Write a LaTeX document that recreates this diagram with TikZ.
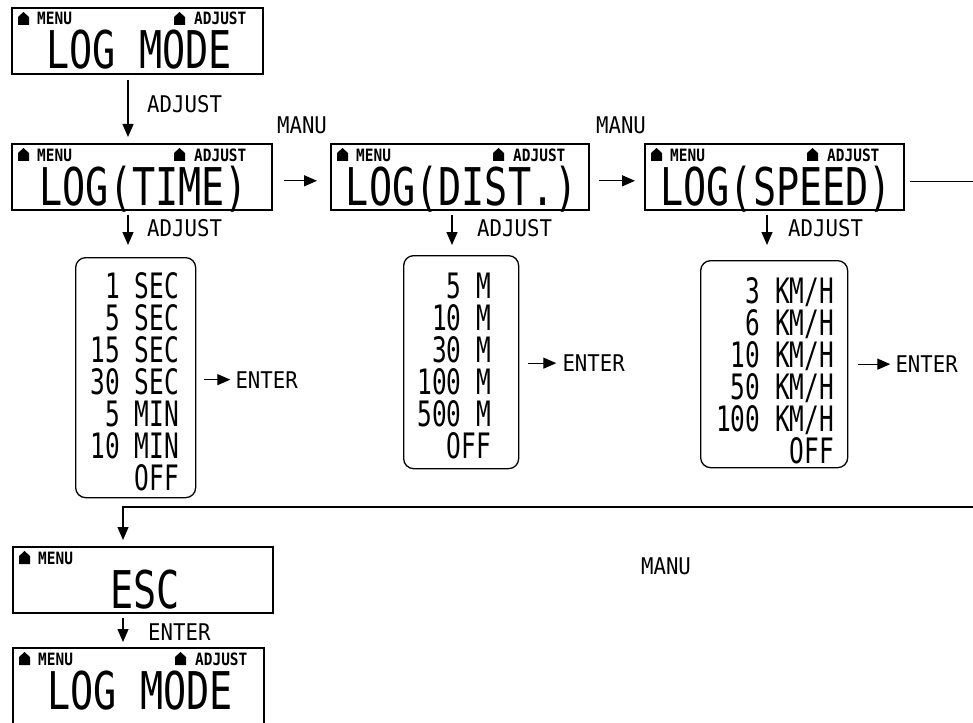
\documentclass[tikz,border=0pt]{standalone}
\usepackage{fontspec}
\usetikzlibrary{arrows.meta,calc}
\newfontfamily\bigfnt[FakeStretch=0.74]{DejaVu Sans Mono}
\newfontfamily\tabfnt[FakeStretch=0.7]{DejaVu Sans Mono}
\newfontfamily\lblfnt[FakeStretch=0.9]{DejaVu Sans Mono}
\newfontfamily\smlfnt[FakeStretch=0.85]{DejaVu Sans Mono Bold}
\tikzset{
 lcd/.style={draw, line width=1.6pt, rectangle, inner sep=0pt, minimum height=66pt, anchor=north west},
 bigtxt/.style={font=\bigfnt\fontsize{52}{52}\selectfont, inner sep=0pt, anchor=base},
 smalltxt/.style={font=\smlfnt\fontsize{17}{17}\selectfont, inner sep=0pt, anchor=base west},
 lbl/.style={font=\lblfnt\fontsize{23}{23}\selectfont, inner sep=0pt, anchor=base west},
 tbl/.style={draw, line width=1.3pt, rounded corners=10pt, rectangle, inner sep=0pt, anchor=north west},
 tabtxt/.style={font=\tabfnt\fontsize{35}{32}\selectfont, inner sep=0pt, align=right, anchor=north east},
 arr/.style={line width=1.3pt, -{Triangle[length=13pt,width=11pt]}},
}
\newcommand\lcdframe[6][66]{%
  \node[lcd, minimum width=#5pt, minimum height=#1pt] (#2) at (#3,#4) {};
  \fill ($(#2.north west)+(7,18)$) -- ++(11,0) -- ++(0,-8) -- ++(-5.5,-5) -- ++(-5.5,5) -- cycle;
  \node[smalltxt] (#2-menu) at ($(#2.north west)+(26,18)$) {MENU};
  \node[bigtxt] (#2-text) at ($(#2.north)+(2,62)$) {#6};
}
\newcommand\lcdadjust[1]{%
  \fill ($(#1.north west)+(163,18)$) -- ++(11,0) -- ++(0,-8) -- ++(-5.5,-5) -- ++(-5.5,5) -- cycle;
  \node[smalltxt] (#1-adj) at ($(#1.north west)+(183,18)$) {ADJUST};
}
\begin{document}
\begin{tikzpicture}[x=1pt,y=-1pt]
\useasboundingbox (0,0) rectangle (973,722);
\clip (0,0) rectangle (973,722);
% LCD boxes
\lcdframe{lm}{11}{7}{251}{LOG MODE}\lcdadjust{lm}
\lcdframe{time}{11}{143}{260}{LOG(TIME)}\lcdadjust{time}
\lcdframe{dist}{330}{143}{258}{LOG(DIST.)}\lcdadjust{dist}
\lcdframe{speed}{644}{143}{259}{LOG(SPEED)}\lcdadjust{speed}
\lcdframe{esc}{12}{546}{260}{ESC}
\lcdframe[80]{lm2}{12}{647}{251}{LOG MODE}\lcdadjust{lm2}
% tables
\node[tbl, minimum width=120pt, minimum height=240pt] (t1) at (75,257) {};
\node[tabtxt] (t1-txt) at ($(t1.north east)+(-17,15)$) {1 SEC\\5 SEC\\15 SEC\\30 SEC\\5 MIN\\10 MIN\\OFF};
\node[tbl, minimum width=115pt, minimum height=213pt] (t2) at (403,255) {};
\node[tabtxt] (t2-txt) at ($(t2.north east)+(-28,18)$) {5 M\\10 M\\30 M\\100 M\\500 M\\OFF};
\node[tbl, minimum width=147pt, minimum height=207pt] (t3) at (700,260) {};
\node[tabtxt] (t3-txt) at ($(t3.north east)+(-14,17)$) {3 KM/H\\6 KM/H\\10 KM/H\\50 KM/H\\100 KM/H\\OFF};
% helper coordinates
\coordinate (c1) at (128,0);
\coordinate (c2) at (452,0);
\coordinate (c3) at (767,0);
\coordinate (rc) at (980,507);
\coordinate (lc) at (123,507);
% connectors
\draw[arr] ($(lm.south -| c1)+(0,5)$) -- ($(time.north -| c1)+(0,-6)$);
\draw[arr] ($(time.south -| c1)+(0,4)$) -- ($(t1.north -| c1)+(0,-12)$);
\draw[arr] ($(dist.south -| c2)+(0,4)$) -- ($(t2.north -| c2)+(0,-10)$);
\draw[arr] ($(speed.south -| c3)+(0,4)$) -- ($(t3.north -| c3)+(0,-15)$);
\draw[arr] ($(time.east)+(11,4)$) -- ($(dist.west)+(-13,4)$);
\draw[arr] ($(dist.east)+(9,4)$) -- ($(speed.west)+(-9,4)$);
\draw[arr] ($(speed.east)+(5,5)$) -| (rc) -- (lc) -- ($(esc.north -| lc)+(0,-6)$);
\draw[arr] ($(esc.south -| lc)+(0,4)$) -- ($(lm2.north -| lc)+(0,-5)$);
\draw[arr] ($(t1.east)+(8,2)$) -- ($(t1.east)+(34,2)$);
\draw[arr] ($(t2.east)+(9,1)$) -- ($(t2.east)+(37,1)$);
\draw[arr] ($(t3.east)+(10,0)$) -- ($(t3.east)+(42,0)$);
% labels
\node[lbl,anchor=west] (adj0) at (147,104) {ADJUST};
\node[lbl,anchor=west] (adj1) at (147,228) {ADJUST};
\node[lbl,anchor=west] (adj2) at (477,228) {ADJUST};
\node[lbl,anchor=west] (adj3) at (788,228) {ADJUST};
\node[lbl,anchor=center] (manu1) at (302,125) {MANU};
\node[lbl,anchor=center] (manu2) at (621,125) {MANU};
\node[lbl,anchor=center] (manu3) at (666,566) {MANU};
\node[lbl,anchor=west] (ent0) at (148,632) {ENTER};
\node[lbl,anchor=west] (ent1) at ($(t1.east)+(39,2)$) {ENTER};
\node[lbl,anchor=west] (ent2) at ($(t2.east)+(43,1)$) {ENTER};
\node[lbl,anchor=west] (ent3) at ($(t3.east)+(47,0)$) {ENTER};
\end{tikzpicture}
\end{document}
